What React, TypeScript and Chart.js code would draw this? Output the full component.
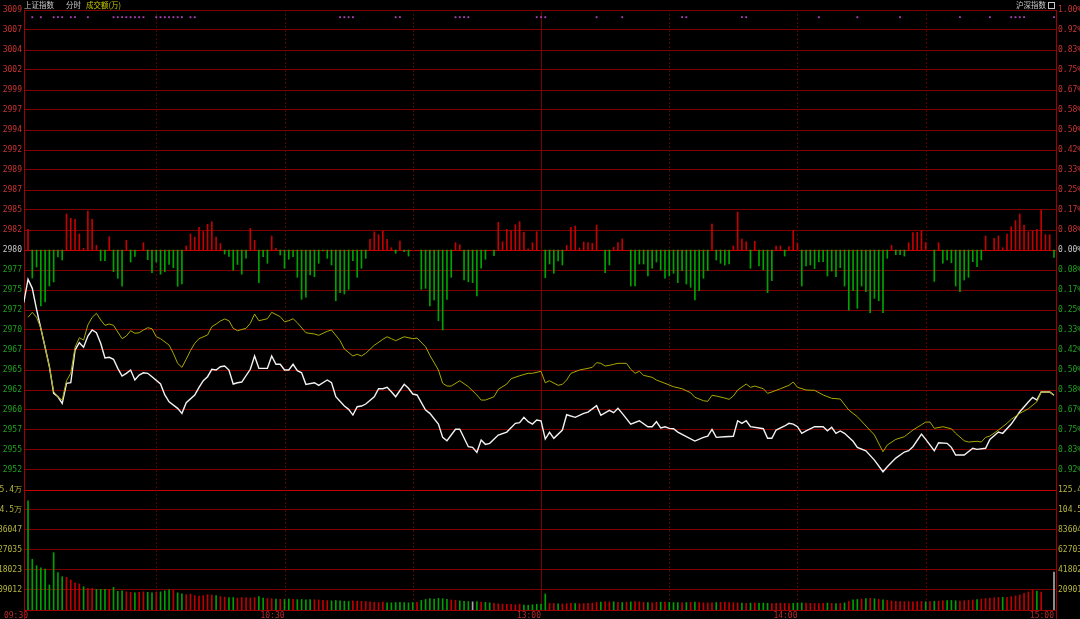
import React, { useEffect, useRef } from "react";
import { Chart, registerables } from "chart.js";

Chart.register(...registerables);

// ---------- data ----------
const PREV_CLOSE = 2979.55;
const VOL_MAX_K = 1254.07; // top of volume pane, thousands
const X_MIN = -0.94;
const X_MAX = 240.47;
const SESSION_BREAK = 120;
const TIME_TICKS = [0, 60, 120, 180, 240];
const TIME_LABELS = ["09:30", "10:30", "13:00", "14:00", "15:00"];
const GRID_MINUTES = [30, 60, 90, 120, 150, 180, 210];
const TITLE_LEFT = ["上证指数", "分时"];
const TITLE_VOL = "成交额(万)";
const TITLE_RIGHT = "沪深指数";
const MARK_ROW = 98.8;

// [minute, index level]
const PRICE_LINE: [number, number][] = [
  [-1, 2973.01], [0, 2975.91], [1, 2974.79], [2, 2972.19], [3, 2969.83], [4, 2967.47], [5, 2965.06], [6, 2961.76],
  [7, 2961.33], [8, 2960.51], [9, 2963.0], [10, 2963.07], [11, 2967.13], [12, 2968.04], [13, 2967.47], [14, 2968.87],
  [15, 2969.62], [16, 2969.28], [17, 2967.97], [18, 2966.14], [19, 2966.23], [20, 2965.98], [21, 2964.86], [22, 2963.9],
  [23, 2964.24], [24, 2964.65], [25, 2963.41], [26, 2964.03], [27, 2964.31], [28, 2964.24], [29, 2963.82], [31, 2962.91],
  [32, 2961.55], [33, 2960.71], [35, 2959.89], [36, 2959.27], [37, 2960.59], [39, 2961.55], [40, 2962.5], [41, 2963.32],
  [42, 2963.82], [43, 2964.74], [44, 2964.65], [45, 2965.06], [46, 2965.15], [47, 2964.65], [48, 2962.91], [49, 2963.07],
  [50, 2963.16], [52, 2964.74], [53, 2966.39], [54, 2964.86], [56, 2964.86], [57, 2966.39], [58, 2965.36], [59, 2965.36],
  [60, 2964.65], [61, 2964.65], [62, 2965.36], [63, 2964.56], [64, 2964.31], [65, 2962.87], [67, 2963.07], [68, 2962.75],
  [70, 2963.41], [71, 2963.07], [72, 2961.33], [74, 2960.18], [75, 2959.77], [76, 2959.06], [77, 2960.09], [78, 2960.18],
  [79, 2960.43], [81, 2961.33], [82, 2962.33], [83, 2962.33], [84, 2962.5], [85, 2961.96], [86, 2961.33], [88, 2962.87],
  [89, 2962.38], [90, 2961.67], [91, 2961.55], [93, 2959.68], [94, 2959.27], [96, 2957.94], [97, 2956.29], [98, 2955.87],
  [100, 2957.29], [101, 2957.29], [103, 2955.13], [104, 2955.05], [105, 2954.43], [106, 2955.96], [107, 2955.42], [108, 2955.55],
  [110, 2956.58], [112, 2956.95], [114, 2958.03], [115, 2958.11], [116, 2958.78], [117, 2958.23], [118, 2957.94], [119, 2958.44],
  [120, 2958.35], [121, 2956.08], [122, 2956.91], [123, 2956.17], [125, 2957.2], [126, 2959.1], [128, 2958.78], [130, 2959.27],
  [131, 2959.43], [133, 2960.22], [134, 2959.02], [136, 2959.65], [137, 2959.35], [138, 2959.89], [139, 2959.27], [141, 2957.94],
  [143, 2958.35], [145, 2957.61], [146, 2957.61], [147, 2958.23], [148, 2957.45], [149, 2957.61], [150, 2957.41], [151, 2957.36],
  [152, 2956.95], [154, 2956.37], [156, 2955.83], [158, 2956.29], [159, 2956.45], [160, 2957.29], [161, 2956.29], [163, 2956.37],
  [165, 2956.42], [166, 2958.35], [167, 2958.03], [168, 2958.35], [169, 2957.61], [171, 2957.45], [172, 2957.36], [173, 2956.17],
  [174, 2956.17], [175, 2957.2], [177, 2957.7], [178, 2958.03], [179, 2957.94], [180, 2957.61], [181, 2956.79], [182, 2957.08],
  [184, 2957.61], [186, 2957.61], [187, 2957.11], [188, 2957.54], [189, 2956.79], [190, 2957.08], [191, 2956.79], [193, 2955.8],
  [194, 2955.05], [196, 2954.63], [198, 2953.47], [200, 2952.02], [201, 2952.64], [203, 2953.72], [205, 2954.47], [206, 2954.63],
  [207, 2955.13], [209, 2956.7], [210, 2956.04], [212, 2954.63], [213, 2955.62], [215, 2955.55], [216, 2955.05], [217, 2954.1],
  [219, 2954.1], [221, 2954.93], [222, 2954.8], [224, 2954.93], [225, 2956.04], [227, 2956.95], [228, 2956.79], [230, 2957.94],
  [232, 2959.47], [234, 2960.68], [235, 2961.26], [236, 2960.92], [237, 2961.92], [238, 2961.92], [239, 2961.92], [240, 2961.51],
];

const AVG_LINE: [number, number][] = [
  [0, 2971.19], [1, 2971.81], [2, 2971.19], [3, 2969.83], [4, 2967.47], [5, 2965.06], [6, 2961.96], [7, 2961.33],
  [8, 2960.92], [9, 2963.32], [10, 2964.24], [11, 2967.47], [12, 2968.66], [13, 2968.37], [14, 2970.24], [15, 2971.19],
  [16, 2971.69], [17, 2970.86], [18, 2970.2], [19, 2970.36], [20, 2970.2], [21, 2969.37], [22, 2968.54], [23, 2968.87],
  [24, 2969.53], [25, 2969.21], [26, 2969.28], [27, 2969.62], [28, 2969.9], [29, 2969.78], [30, 2968.78], [31, 2968.54],
  [33, 2967.75], [34, 2966.72], [35, 2965.48], [36, 2964.98], [37, 2965.98], [38, 2967.05], [39, 2967.97], [40, 2968.54],
  [42, 2969.0], [43, 2970.03], [44, 2970.36], [45, 2970.73], [46, 2970.98], [47, 2970.77], [48, 2969.83], [49, 2969.53],
  [51, 2969.83], [52, 2970.45], [53, 2971.6], [54, 2970.77], [56, 2971.02], [57, 2971.81], [59, 2971.27], [60, 2970.65],
  [61, 2970.77], [62, 2971.02], [63, 2970.52], [65, 2969.28], [67, 2969.12], [68, 2968.96], [70, 2969.46], [71, 2969.62],
  [73, 2968.29], [74, 2967.26], [76, 2966.39], [77, 2966.6], [78, 2966.39], [79, 2966.72], [81, 2967.72], [83, 2968.46],
  [84, 2968.78], [85, 2968.54], [86, 2968.29], [88, 2968.78], [90, 2968.54], [91, 2968.62], [93, 2967.54], [94, 2966.48],
  [96, 2964.65], [97, 2963.0], [98, 2962.66], [99, 2962.66], [101, 2963.32], [103, 2962.58], [105, 2961.55], [106, 2960.92],
  [107, 2960.92], [109, 2961.33], [110, 2962.25], [112, 2962.91], [113, 2963.57], [115, 2963.94], [117, 2964.24], [118, 2964.24],
  [120, 2964.49], [121, 2963.07], [122, 2963.32], [124, 2962.75], [125, 2962.87], [126, 2963.41], [127, 2964.24], [129, 2964.65],
  [131, 2964.86], [132, 2964.98], [133, 2965.56], [134, 2965.48], [135, 2965.15], [136, 2965.23], [137, 2965.36], [138, 2965.48],
  [140, 2965.48], [141, 2964.74], [142, 2964.24], [143, 2964.49], [144, 2963.99], [146, 2963.74], [147, 2963.41], [149, 2963.0],
  [151, 2962.58], [153, 2962.33], [155, 2961.83], [156, 2961.26], [158, 2960.84], [159, 2960.76], [160, 2961.51], [161, 2961.42],
  [163, 2961.17], [164, 2961.01], [165, 2961.42], [166, 2962.17], [168, 2962.91], [169, 2962.5], [170, 2962.66], [172, 2962.33],
  [173, 2961.76], [174, 2961.92], [176, 2962.33], [178, 2962.75], [179, 2963.16], [180, 2962.5], [182, 2962.17], [184, 2962.13],
  [186, 2961.55], [188, 2961.14], [190, 2961.05], [192, 2959.68], [194, 2958.85], [198, 2956.58], [200, 2954.5], [201, 2955.34],
  [203, 2956.04], [205, 2956.37], [207, 2957.2], [209, 2957.86], [210, 2958.19], [211, 2958.19], [212, 2957.41], [214, 2957.61],
  [216, 2957.36], [217, 2956.79], [219, 2955.87], [220, 2955.71], [222, 2955.8], [223, 2955.71], [224, 2956.29], [225, 2956.45],
  [227, 2957.2], [229, 2958.03], [230, 2958.53], [232, 2959.27], [234, 2959.84], [236, 2960.71], [237, 2961.92], [239, 2961.92],
  [240, 2961.51],
];

// [minute, strength in index points above/below previous close]
const FORCE_BARS: [number, number][] = [
  [0, 2.57], [1, -3.48], [2, -2.11], [3, -6.95], [4, -6.46], [5, -4.47], [6, -3.97], [7, -0.87], [8, -1.24], [9, 4.47],
  [10, 3.94], [11, 3.81], [12, 1.99], [13, 0.21], [14, 4.84], [15, 3.81], [16, 0.58], [17, -1.33], [18, -1.33], [19, 1.65],
  [20, -2.69], [21, -3.51], [22, -4.5], [23, 1.2], [24, -1.5], [25, -0.8], [27, 0.9], [28, -1.2], [29, -2.8], [30, -1.5],
  [31, -3.0], [32, -2.7], [33, -1.8], [34, -2.2], [35, -4.5], [36, -4.2], [37, 0.5], [38, 2.0], [39, 1.6], [40, 2.8],
  [41, 2.3], [42, 3.2], [43, 3.5], [44, 1.6], [45, 0.8], [46, -0.5], [47, -0.8], [48, -2.5], [49, -1.8], [50, -3.0],
  [51, -1.0], [52, 2.7], [53, 1.2], [54, -4.06], [55, -0.83], [56, -1.65], [57, 1.74], [58, 0.21], [59, -0.62], [60, -2.27],
  [61, -1.15], [62, -0.83], [63, -3.39], [64, -6.12], [65, -5.87], [66, -3.1], [67, -3.32], [68, -1.65], [69, -0.1], [70, -1.03],
  [71, -1.86], [72, -6.3], [73, -5.3], [74, -5.46], [75, -4.88], [76, -1.33], [77, -3.39], [78, -2.27], [79, -1.03], [80, 1.33],
  [81, 2.24], [82, 1.9], [83, 2.36], [84, 1.33], [85, 0.29], [86, -0.41], [87, 1.12], [88, -0.21], [89, -0.75], [92, -4.88],
  [93, -4.76], [94, -6.95], [95, -6.21], [96, -8.78], [97, -9.93], [98, -6.12], [99, -3.39], [100, 0.91], [101, 0.66], [102, -3.73],
  [103, -3.94], [104, -4.06], [105, -5.71], [106, -2.27], [107, -1.15], [109, -0.71], [110, 3.44], [111, 1.03], [112, 2.57], [113, 2.4],
  [114, 3.14], [115, 3.51], [116, 2.2], [117, 0.12], [118, 0.91], [119, 2.27], [121, -3.44], [122, -1.74], [123, -2.89], [124, -1.37],
  [125, -1.86], [126, 0.58], [127, 2.82], [128, 2.98], [129, 0.25], [130, 0.99], [131, 0.91], [132, 0.83], [133, 3.1], [135, -2.82],
  [136, -1.86], [137, 0.34], [138, 0.91], [139, 1.37], [141, -4.47], [142, -4.47], [143, -1.74], [144, -1.74], [145, -3.23], [146, -2.27],
  [147, -1.49], [148, -2.48], [149, -3.51], [150, -3.23], [151, -2.89], [152, -4.06], [153, -2.57], [154, -4.22], [155, -4.63], [156, -6.21],
  [157, -5.05], [158, -3.51], [159, -2.57], [160, 3.23], [161, -1.24], [162, -1.65], [163, -1.86], [164, -1.74], [165, 0.5], [166, 4.72],
  [167, 1.37], [168, 1.03], [169, -2.27], [170, 1.08], [171, -1.99], [172, -2.48], [173, -5.3], [174, -3.81], [175, 0.5], [176, 0.5],
  [177, -0.75], [178, 0.41], [179, 2.4], [180, 0.83], [181, -4.47], [182, -1.99], [183, -1.86], [184, -2.3], [185, -1.49], [186, -1.45],
  [187, -3.23], [188, -2.61], [189, -3.32], [190, -2.2], [191, -4.47], [192, -7.45], [193, -5.05], [194, -7.24], [195, -4.47], [196, -5.18],
  [197, -7.79], [198, -6.0], [199, -6.3], [200, -7.79], [201, -1.03], [202, 0.58], [203, -0.58], [204, -0.58], [205, -0.75], [206, 0.91],
  [207, 2.15], [208, 2.2], [209, 2.4], [210, 0.91], [212, -3.89], [213, 0.91], [214, -1.65], [215, -1.24], [216, -1.58], [217, -4.47],
  [218, -5.18], [219, -3.73], [220, -3.39], [221, -1.45], [222, -2.07], [223, -1.24], [224, 1.74], [226, 1.45], [227, 1.74], [228, 0.29],
  [229, 1.99], [230, 2.89], [231, 3.64], [232, 4.47], [233, 3.1], [234, 2.27], [235, 2.4], [236, 2.57], [237, 4.97], [238, 1.9],
  [239, 1.9], [240, -0.91],
];

// per-minute turnover, thousands (minute 0 .. 240)
const VOLUME_K: number[] = [
  1142, 530, 463, 442, 428, 261, 599, 390, 348, 342, 314, 285, 272, 244, 226, 226, 216, 216, 216, 216, 237, 195,
  200, 190, 185, 180, 185, 190, 185, 180, 185, 190, 200, 210, 205,
  180, 170, 160, 165, 150, 145, 150, 160, 155, 150,
  140, 135, 130, 130, 125, 130, 128, 125, 130, 139, 125,
  120, 118, 115, 112, 110, 115, 112, 108, 110, 105, 110, 108, 105,
  100, 98, 95, 100, 95, 92, 90, 95, 92, 90, 88,
  85, 80, 78, 82, 76, 75, 78, 80, 77, 75, 78, 80,
  100, 110, 120, 115, 122, 118, 112, 105, 100, 95,
  90, 88, 85, 87, 84, 80, 75,
  70, 65, 62, 60, 58, 55, 60, 52, 50, 55, 60, 62,
  167,
  70, 68, 65, 63, 66, 70, 68, 65, 67, 70, 72,
  80, 82, 85, 84, 86, 80, 78, 82, 85, 87, 84, 80, 78, 76, 80, 82, 84, 80, 78, 77, 76, 78,
  80, 82, 78, 75, 74, 76, 78, 80, 82, 78, 75, 74, 72, 70, 72, 74,
  70, 72, 70, 68, 70, 72, 70, 68, 70, 72, 74, 72, 70, 68, 66, 70, 72, 70, 68, 70, 75, 90,
  105, 110, 115, 120, 122, 118, 112, 105, 100,
  95, 90, 88, 86, 87, 85, 88, 90, 86, 88, 90, 92,
  95, 98, 100, 96, 94, 98, 100, 105, 110,
  115, 120, 125, 128, 130,
  133, 133, 140, 147, 157, 174, 188, 209, 199, 188,
  0, 0, 397,
];

// bar colour per minute: r = up, g = down, w = unchanged, - = no trade
const VOLUME_DIR =
  "gggggggggr" + "rrrgrrgggr" + "gggrrgrrgg" + "rgggrggrrr" + "rrrrgrrggr" +
  "rrrrggrrgr" + "ggrggggrrr" + "rgggggrrrr" + "rrrrgggggg" + "grgggggggr" +
  "rgggwgrggr" + "rrrrrrgggg" + "ggrrgrrrgr" + "rrrrgrrgrg" + "rgrrrgrrgr" +
  "gggrgrgrrr" + "rgrrrrrgrg" + "rgggrrrrrg" + "ggrrrrrgrg" + "rgrggrgrgr" +
  "grrrrrrrrr" + "grgrrgggrr" + "rrgrrrrrgr" + "rrrrrrgr--" + "w";

const MARK_MINUTES = [
  1, 3, 6, 7, 8, 10, 11, 14, 20, 21, 22, 23, 24, 25, 26, 27, 30, 31, 32, 33, 34, 35, 36, 38, 39,
  73, 74, 75, 76, 86, 87, 100, 101, 102, 103, 119, 120, 121, 133, 139, 153, 154, 167, 168,
  185, 194, 204, 218, 225, 230, 231, 232, 233, 240,
];

// ---------- styles ----------
const C_RED_TXT = "#c83434";
const C_GREEN_TXT = "#20a020";
const C_WHITE_TXT = "#c8c8c8";
const C_VOL_TXT = "#b4b440";
const C_GRID = "#800000";
const C_GRID_HI = "#c80000";
const TICK_FONT = { family: "DejaVu Sans Mono", size: 8 };
const DIR_COLOR: Record<string, string> = {
  r: "#c00000",
  g: "#00a000",
  w: "#a8a8a8",
  "-": "rgba(0,0,0,0)",
};

const vGridPlugin = {
  id: "vgrid",
  beforeDatasetsDraw(chart: any) {
    const { ctx, chartArea, scales } = chart;
    const xs = scales.x;
    ctx.save();
    ctx.lineWidth = 1;
    for (const m of GRID_MINUTES) {
      const px = Math.round(xs.getPixelForValue(m)) + 0.5;
      const solid = m === SESSION_BREAK;
      ctx.strokeStyle = solid ? "#7a0000" : "#560000";
      ctx.setLineDash(solid ? [] : [2, 2]);
      ctx.beginPath();
      ctx.moveTo(px, chartArea.top);
      ctx.lineTo(px, chartArea.bottom);
      ctx.stroke();
    }
    ctx.restore();
  },
  afterDraw(chart: any) {
    const { ctx, chartArea, height } = chart;
    ctx.save();
    ctx.strokeStyle = "#a00000";
    ctx.lineWidth = 1;
    for (const x of [chartArea.left, chartArea.right]) {
      const px = Math.round(x) + 0.5;
      ctx.beginPath();
      ctx.moveTo(px, chartArea.bottom);
      ctx.lineTo(px, height);
      ctx.stroke();
    }
    ctx.restore();
  },
};

export default function App() {
  const ref = useRef<HTMLCanvasElement>(null);

  useEffect(() => {
    document.body.style.margin = "0";
    document.body.style.background = "#000";
    const canvas = ref.current;
    if (!canvas) return;
    const P = PREV_CLOSE;
    const volLabel = (n: number) => {
      const v = (n * VOL_MAX_K * 1000) / 6;
      return v >= 1e6 ? (v / 10000).toFixed(1) + "万" : String(Math.round(v));
    };
    const labelColor = (k: number) =>
      k > 0 ? C_RED_TXT : k === 0 ? C_WHITE_TXT : k >= -11 ? C_GREEN_TXT : C_VOL_TXT;
    const gridColor = (k: number) => (k === 0 || k === -12 ? C_GRID_HI : C_GRID);

    const volColors = VOLUME_K.map((_, i) => DIR_COLOR[VOLUME_DIR[i]] || DIR_COLOR.r);

    const chart = new Chart(canvas, {
      type: "line",
      data: {
        datasets: [
          {
            type: "line",
            label: "均价",
            data: AVG_LINE.map(([x, y]) => ({ x, y })),
            yAxisID: "yL",
            borderColor: "#aaa800",
            borderWidth: 1,
            pointRadius: 0,
            tension: 0,
            order: 0,
          } as any,
          {
            type: "line",
            label: "上证指数",
            data: PRICE_LINE.map(([x, y]) => ({ x, y })),
            yAxisID: "yL",
            borderColor: "#f2f2f2",
            borderWidth: 1.4,
            pointRadius: 0,
            tension: 0,
            order: 1,
          },
          {
            type: "bar",
            label: "力道",
            data: FORCE_BARS.map(([x, v]) => ({ x, y: [P, P + v] })),
            yAxisID: "yL",
            backgroundColor: FORCE_BARS.map(([, v]) => (v >= 0 ? "#c40000" : "#00a400")),
            barThickness: 1,
            grouped: false,
            borderWidth: 0,
            order: 2,
          },
          {
            type: "bar",
            label: "成交额",
            data: VOLUME_K.map((v, i) => ({ x: i, y: v })),
            yAxisID: "yVol",
            backgroundColor: volColors,
            barThickness: 1,
            grouped: false,
            borderWidth: 0,
            order: 3,
          },
          {
            type: "line",
            label: "marks",
            data: MARK_MINUTES.map((m) => ({ x: m, y: MARK_ROW })),
            yAxisID: "yMark",
            showLine: false,
            pointStyle: "rect",
            pointRadius: 1.3,
            pointBackgroundColor: "#b040b8",
            pointBorderWidth: 0,
            order: 4,
          },
        ] as any,
      },
      options: {
        animation: false,
        responsive: false,
        maintainAspectRatio: false,
        events: [],
        layout: { padding: { top: 10, left: 0, right: 0, bottom: 0 } },
        plugins: {
          legend: { display: false },
          tooltip: { enabled: false },
          title: { display: false },
        },
        scales: {
          x: {
            type: "linear",
            min: X_MIN,
            max: X_MAX,
            offset: false,
            position: "bottom",
            afterBuildTicks: (s: any) => {
              s.ticks = TIME_TICKS.map((v) => ({ value: v }));
            },
            afterFit: (s: any) => {
              s.height = 9;
            },
            grid: { display: false, drawTicks: false, offset: false },
            border: { display: true, color: "#a00000" },
            ticks: {
              autoSkip: false,
              maxRotation: 0,
              padding: 1,
              align: "end",
              color: "#b82c2c",
              font: TICK_FONT,
              callback: (_v: any, i: number) => TIME_LABELS[i],
            },
          },
          yL: {
            type: "linear",
            position: "left",
            min: P * (1 - 18 / 1200),
            max: P * (1 + 12 / 1200),
            afterBuildTicks: (s: any) => {
              const t = [];
              for (let k = -18; k <= 12; k++) t.push({ value: P * (1 + k / 1200) });
              s.ticks = t;
            },
            afterFit: (s: any) => {
              s.width = 24;
            },
            grid: {
              drawTicks: false,
              color: (c: any) => gridColor(c.index - 18),
              lineWidth: 1,
            },
            border: { display: true, color: "#a00000" },
            ticks: {
              autoSkip: false,
              padding: 2,
              font: TICK_FONT,
              color: (c: any) => labelColor(c.index - 18),
              callback: (v: any, i: number) => {
                const k = i - 18;
                if (k >= -11) return String(Math.round(Number(v)));
                if (k > -18) return volLabel(k + 18);
                return "";
              },
            },
          },
          yR: {
            type: "linear",
            position: "right",
            min: -1.5,
            max: 1,
            afterBuildTicks: (s: any) => {
              const t = [];
              for (let k = -18; k <= 12; k++) t.push({ value: k / 12 });
              s.ticks = t;
            },
            afterFit: (s: any) => {
              s.width = 24;
            },
            grid: { display: false, drawTicks: false },
            border: { display: true, color: "#a00000" },
            ticks: {
              autoSkip: false,
              padding: 2,
              font: TICK_FONT,
              color: (c: any) => labelColor(c.index - 18),
              callback: (_v: any, i: number) => {
                const k = i - 18;
                if (k >= -11) return Math.abs(k / 12).toFixed(2) + "%";
                if (k > -18) return volLabel(k + 18);
                return "";
              },
            },
          },
          yVol: { type: "linear", display: false, min: 0, max: VOL_MAX_K * 5 },
          yMark: { type: "linear", display: false, min: 0, max: 100 },
        },
      } as any,
      plugins: [vGridPlugin],
    });
    return () => chart.destroy();
  }, []);

  const cjk = '"Noto Sans CJK SC", "Noto Sans", sans-serif';
  const head: React.CSSProperties = {
    position: "absolute",
    top: 0,
    fontFamily: cjk,
    fontSize: "7.5px",
    lineHeight: "10px",
    whiteSpace: "nowrap",
  };

  return (
    <div style={{ position: "relative", width: 1080, height: 619, background: "#000", overflow: "hidden" }}>
      <canvas ref={ref} width={1080} height={619} style={{ display: "block" }} />
      <div style={{ ...head, left: 24, color: "#c8c8c8" }}>{TITLE_LEFT[0]}</div>
      <div style={{ ...head, left: 66, color: "#c8c8c8" }}>{TITLE_LEFT[1]}</div>
      <div style={{ ...head, left: 86, color: "#c8c800" }}>{TITLE_VOL}</div>
      <div style={{ ...head, left: 1016, color: "#c8c8c8" }}>{TITLE_RIGHT}</div>
      <div
        style={{
          position: "absolute",
          left: 1048,
          top: 2,
          width: 5,
          height: 5,
          border: "1px solid #c8c8c8",
        }}
      />
    </div>
  );
}
